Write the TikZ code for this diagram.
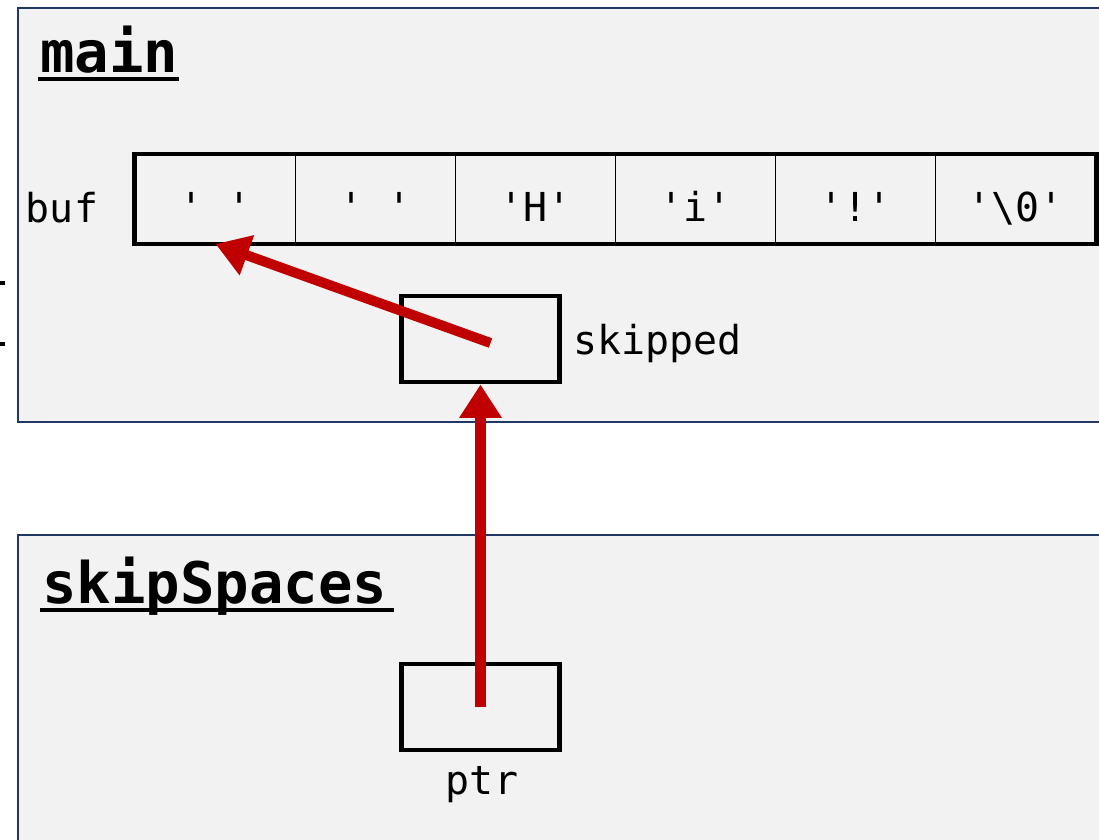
\documentclass[tikz,border=0pt]{standalone}
\usepackage{fontspec}
\setmonofont{DejaVu Sans Mono}
\usepackage{xcolor}
\usepackage{tikz}
\usetikzlibrary{arrows.meta}

\definecolor{framefill}{HTML}{F2F2F2}
\definecolor{frameline}{HTML}{203864}
\definecolor{ptrred}{HTML}{C00000}

\tikzset{
    frame/.style={fill=framefill, draw=frameline, line width=1.2pt},
    cell/.style={draw, line width=1.1pt, minimum width=160*0.02cm, minimum height=88*0.02cm,
                 inner sep=0pt, text height=26pt, text depth=0pt,
                 font=\ttfamily\fontsize{22.7}{26}\selectfont},
    varbox/.style={draw, line width=2.8pt, minimum width=158*0.02cm, minimum height=86*0.02cm, inner sep=0pt},
    lbl/.style={inner sep=0pt, font=\ttfamily\fontsize{22.7}{26}\selectfont},
    title/.style={inner sep=0pt, font=\ttfamily\bfseries\fontsize{32.6}{38}\selectfont},
    ptrarrow/.style={ptrred, line width=5.7pt, -{Triangle[length=19pt,width=23pt]}},
}

\begin{document}
\begin{tikzpicture}[x=0.02cm, y=-0.02cm]
    \useasboundingbox (0,0) rectangle (1099,839);
    \clip (0,0) rectangle (1099,839);
    \fill[white] (0,0) rectangle (1099,839);

    % stack frames
    \draw[frame] (18,8) rectangle (1120,422);
    \draw[frame] (18,535) rectangle (1120,860);
    \node[title, anchor=base west] (mainlbl) at (40,72) {main};
    \draw[line width=2.2pt] (38,79) -- (179,79);
    \node[title, anchor=base west] (skiplbl) at (42,603) {skipSpaces};
    \draw[line width=2.2pt] (40,610) -- (394,610);

    % cut-off marks at the left edge
    \draw[line width=2.8pt] (0,283) -- (5,283);
    \draw[line width=2.8pt] (0,344) -- (5,344);

    % the buf array
    \foreach \txt [count=\i] in {{' '},{' '},{'H'},{'i'},{'!'},{'\textbackslash 0'}}
        \node[cell] (c\i) at (215.5+160*\i-160,199) {\txt};
    \draw[line width=2.8pt] (c1.north west) rectangle (c6.south east);
    \node[lbl] (buf) at (62,208) {buf};

    % pointer variables
    \node[varbox] (skipped) at (480.5,339) {};
    \node[lbl, anchor=west] (skippedlbl) at (573,343) {skipped};
    \node[varbox] (ptr) at (480.5,707) {};
    \node[lbl] (ptrlbl) at (482,785) {ptr};

    \draw[ptrarrow] ([xshift=0.2cm,yshift=-0.08cm]skipped.center) -- (c1.south);
    \draw[ptrarrow] (ptr.center) -- (skipped.south);
\end{tikzpicture}
\end{document}
